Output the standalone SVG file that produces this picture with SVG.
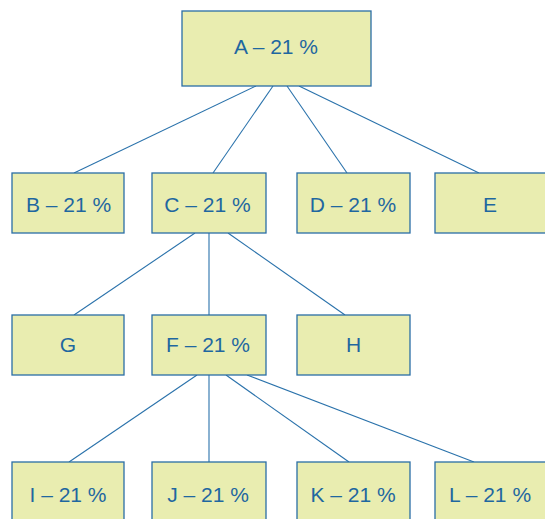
<svg xmlns="http://www.w3.org/2000/svg" width="545" height="519" viewBox="0 0 545 519">
<style>
.box{fill:#e9edb0;stroke:#2a6ea6;stroke-width:1.3}
.lbl{font-family:"Liberation Sans",Arial,sans-serif;font-size:21px;fill:#1f67a0;text-anchor:middle}
.conn line{stroke:#2a72ab;stroke-width:1.1}
</style>
<rect width="545" height="519" fill="#ffffff"/>
<g id="connectors" class="conn">
<line x1="256" y1="86" x2="74" y2="173"/>
<line x1="273" y1="86" x2="213" y2="173"/>
<line x1="287" y1="86" x2="347" y2="173"/>
<line x1="299" y1="86" x2="479" y2="173"/>
<line x1="195" y1="233" x2="74" y2="315"/>
<line x1="209" y1="233" x2="209" y2="315"/>
<line x1="228" y1="233" x2="345" y2="315"/>
<line x1="197" y1="375" x2="69" y2="462"/>
<line x1="209" y1="375" x2="209" y2="462"/>
<line x1="226" y1="375" x2="349" y2="462"/>
<line x1="247" y1="375" x2="474" y2="462"/>
</g>
<g id="A"><rect class="box" x="182" y="11" width="189" height="75"/><text class="lbl" x="276" y="53.5">A – 21 %</text></g>
<g id="B"><rect class="box" x="12" y="173" width="112" height="60"/><text class="lbl" x="68.5" y="212">B – 21 %</text></g>
<g id="C"><rect class="box" x="152" y="173" width="114" height="60"/><text class="lbl" x="207.5" y="212">C – 21 %</text></g>
<g id="D"><rect class="box" x="297" y="173" width="113" height="60"/><text class="lbl" x="353" y="212">D – 21 %</text></g>
<g id="E"><rect class="box" x="435" y="173" width="112" height="60"/><text class="lbl" x="490" y="212">E</text></g>
<g id="G"><rect class="box" x="12" y="315" width="112" height="60"/><text class="lbl" x="68" y="352">G</text></g>
<g id="F"><rect class="box" x="152" y="315" width="114" height="60"/><text class="lbl" x="208" y="352">F – 21 %</text></g>
<g id="H"><rect class="box" x="297" y="315" width="113" height="60"/><text class="lbl" x="353.5" y="352">H</text></g>
<g id="I"><rect class="box" x="12" y="462" width="112" height="62"/><text class="lbl" x="68" y="501.5">I – 21 %</text></g>
<g id="J"><rect class="box" x="152" y="462" width="114" height="62"/><text class="lbl" x="208" y="501.5">J – 21 %</text></g>
<g id="K"><rect class="box" x="297" y="462" width="113" height="62"/><text class="lbl" x="353" y="501.5">K – 21 %</text></g>
<g id="L"><rect class="box" x="435" y="462" width="112" height="62"/><text class="lbl" x="490" y="501.5">L – 21 %</text></g>
</svg>
